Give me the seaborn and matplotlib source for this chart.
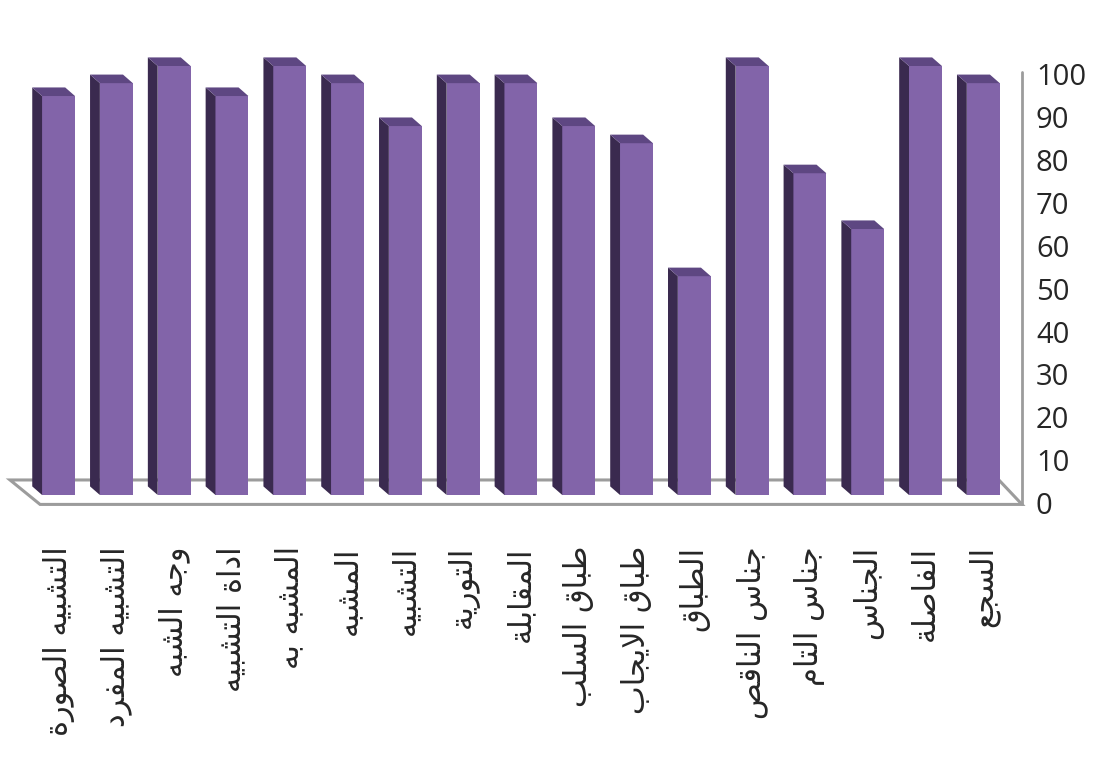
import matplotlib
matplotlib.use("Agg")
import matplotlib.pyplot as plt
from matplotlib.patches import Polygon
import seaborn as sns

# categories as they appear from left to right
labels = ["التشبيه الصورة", "التشبيه المفرد", "وجه الشبه", "اداة التشبيه",
          "المشبه به", "المشبه", "التشبيه", "التورية", "المقابلة",
          "طباق السلب", "طباق الايجاب", "الطباق", "جناس الناقص",
          "جناس التام", "الجناس", "الفاصلة", "السجع"]
values = [93, 96, 100, 93, 100, 96, 86, 96, 96, 86, 82, 51, 100, 75, 62, 100, 96]
yticks = list(range(0, 101, 10))

front_col = "#8264A9"
side_col = "#3A2A4F"
top_col = "#5E4782"

# matplotlib has no arabic shaping, so pick the presentation forms by hand
FORMS = {
    "ا": (0xFE8D, 0xFE8E, None, None),
    "ب": (0xFE8F, 0xFE90, 0xFE91, 0xFE92),
    "ة": (0xFE93, 0xFE94, None, None),
    "ت": (0xFE95, 0xFE96, 0xFE97, 0xFE98),
    "ج": (0xFE9D, 0xFE9E, 0xFE9F, 0xFEA0),
    "د": (0xFEA9, 0xFEAA, None, None),
    "ر": (0xFEAD, 0xFEAE, None, None),
    "س": (0xFEB1, 0xFEB2, 0xFEB3, 0xFEB4),
    "ش": (0xFEB5, 0xFEB6, 0xFEB7, 0xFEB8),
    "ص": (0xFEB9, 0xFEBA, 0xFEBB, 0xFEBC),
    "ط": (0xFEC1, 0xFEC2, 0xFEC3, 0xFEC4),
    "ع": (0xFEC9, 0xFECA, 0xFECB, 0xFECC),
    "ف": (0xFED1, 0xFED2, 0xFED3, 0xFED4),
    "ق": (0xFED5, 0xFED6, 0xFED7, 0xFED8),
    "ل": (0xFEDD, 0xFEDE, 0xFEDF, 0xFEE0),
    "م": (0xFEE1, 0xFEE2, 0xFEE3, 0xFEE4),
    "ن": (0xFEE5, 0xFEE6, 0xFEE7, 0xFEE8),
    "ه": (0xFEE9, 0xFEEA, 0xFEEB, 0xFEEC),
    "و": (0xFEED, 0xFEEE, None, None),
    "ي": (0xFEF1, 0xFEF2, 0xFEF3, 0xFEF4),
    "لا": (0xFEFB, 0xFEFC, None, None),
}


def shape(text):
    chars = []
    i = 0
    while i < len(text):
        if text[i] == "ل" and i + 1 < len(text) and text[i + 1] == "ا":
            chars.append("لا")
            i += 2
        else:
            chars.append(text[i])
            i += 1
    out = []
    for k, c in enumerate(chars):
        if c not in FORMS:
            out.append(c)
            continue
        iso, fin, ini, med = FORMS[c]
        prev = chars[k - 1] if k > 0 else None
        nxt = chars[k + 1] if k + 1 < len(chars) else None
        jp = prev in FORMS and FORMS[prev][2] is not None
        jn = nxt in FORMS and ini is not None
        if jp and jn:
            g = med
        elif jp:
            g = fin
        elif jn:
            g = ini
        else:
            g = iso
        out.append(chr(g))
    return "".join(reversed(out))


sns.set_style("white")
plt.rcParams["font.family"] = ["Open Sans", "DejaVu Sans"]

fig = plt.figure(figsize=(11.11, 7.69), dpi=100)
ax = fig.add_axes([10 / 1111, 259 / 769, 1012 / 1111, 470 / 769])

sns.barplot(x=labels, y=values, color=front_col, saturation=1, width=0.57,
            linewidth=0, ax=ax, zorder=3)
bars = list(ax.patches)

ax.set_xlim(-0.84, 16.67)
ax.set_ylim(-3.5, 106.06)

# fake depth: side and top faces offset up-left
dx, dy = -0.17, 2.0
for p in bars:
    x0, w, h = p.get_x(), p.get_width(), p.get_height()
    side = Polygon([(x0, 0), (x0, h), (x0 + dx, h + dy), (x0 + dx, dy)],
                   closed=True, facecolor=side_col, edgecolor="none", zorder=3)
    top = Polygon([(x0, h), (x0 + w, h), (x0 + w + dx, h + dy), (x0 + dx, h + dy)],
                  closed=True, facecolor=top_col, edgecolor="none", zorder=3)
    ax.add_patch(side)
    ax.add_patch(top)

# floor and back wall edge
xl, xr = ax.get_xlim()
floor = Polygon([(xl, 3.5), (xl + 0.52, -2.2), (xr, -2.2), (xr - 0.4, 3.5)],
                closed=True, facecolor="white", edgecolor="#9c9c9c", lw=2.2,
                zorder=1, clip_on=False)
ax.add_patch(floor)
ax.plot([xr, xr], [-2.2, 98.5], color="#9c9c9c", lw=2, clip_on=False, zorder=1)

for s in ax.spines.values():
    s.set_visible(False)
ax.set_yticks([])
ax.set_xticks(range(len(labels)))
ax.set_xticklabels([shape(s) for s in labels], rotation=90,
                   fontfamily="DejaVu Sans", fontsize=22, va="top")
ax.tick_params(axis="x", length=0, pad=26)

sec = ax.secondary_yaxis("right", functions=(lambda u: u + 1.9, lambda v: v - 1.9))
sec.set_yticks(yticks)
sec.tick_params(length=0, labelsize=21, pad=10)
for s in sec.spines.values():
    s.set_visible(False)

fig.savefig("out.png", dpi=100)
